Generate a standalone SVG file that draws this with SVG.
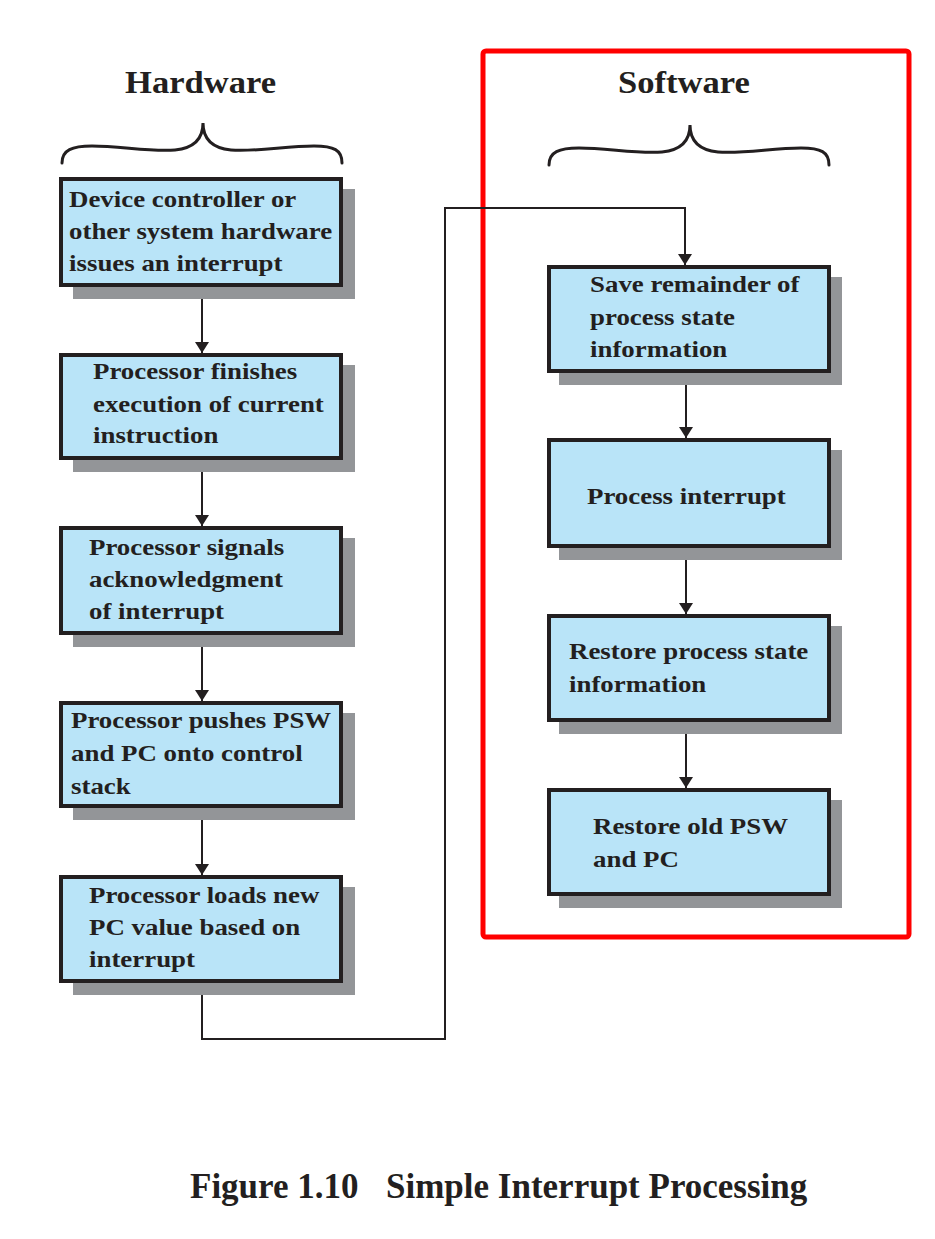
<svg xmlns="http://www.w3.org/2000/svg" width="935" height="1239" viewBox="0 0 935 1239">
<style>
.shadow{fill:#939598}
.box{fill:#b9e4f8;stroke:#231f20;stroke-width:4}
.t{font-family:"Liberation Serif","Times New Roman",serif;font-weight:bold;font-size:24px;fill:#231f20}
.h{font-family:"Liberation Serif","Times New Roman",serif;font-weight:bold;font-size:32px;fill:#231f20}
.cap{font-family:"Liberation Serif","Times New Roman",serif;font-weight:bold;font-size:35px;fill:#231f20}
.brace{fill:none;stroke:#231f20;stroke-width:3;stroke-linecap:round}
.conn{fill:none;stroke:#231f20;stroke-width:2}
</style>
<defs>
<marker id="arr" markerUnits="userSpaceOnUse" markerWidth="14" markerHeight="14" refX="11" refY="7" orient="auto">
<path d="M0,0 L11,7 L0,14 z" fill="#231f20"/>
</marker>
<path id="br" d="M62,163 C62,150 72,146 92,146 C120,146 150,152 175,150 C195,148 203,138 203,123 C203,138 211,148 231,150 C256,152 286,146 314,146 C334,146 342,150 342,163"/>
</defs>
<rect width="935" height="1239" fill="#ffffff"/>

<g id="software-frame">
<rect x="483" y="51" width="426" height="886" rx="3" fill="none" stroke="#ff0000" stroke-width="5"/>
</g>

<g id="hardware-header">
<text class="h" transform="translate(125,93) scale(1.08,1)">Hardware</text>
<use href="#br" class="brace"/>
</g>
<g id="software-header">
<text class="h" transform="translate(618,93) scale(1.08,1)">Software</text>
<use href="#br" class="brace" transform="translate(487,2)"/>
</g>

<g id="connectors">
<line class="conn" x1="202" y1="287" x2="202" y2="353" marker-end="url(#arr)"/>
<line class="conn" x1="202" y1="460" x2="202" y2="526" marker-end="url(#arr)"/>
<line class="conn" x1="202" y1="635" x2="202" y2="701" marker-end="url(#arr)"/>
<line class="conn" x1="202" y1="808" x2="202" y2="875" marker-end="url(#arr)"/>
<polyline class="conn" points="202,983 202,1039 445,1039 445,208 685,208 685,265" marker-end="url(#arr)"/>
<line class="conn" x1="686" y1="373" x2="686" y2="438" marker-end="url(#arr)"/>
<line class="conn" x1="686" y1="548" x2="686" y2="614" marker-end="url(#arr)"/>
<line class="conn" x1="686" y1="722" x2="686" y2="788" marker-end="url(#arr)"/>
</g>

<g id="hw1">
<rect class="shadow" x="73" y="189" width="282" height="110"/>
<rect class="box" x="61" y="179" width="280" height="106"/>
<text class="t" transform="translate(69,207) scale(1.12,1)"><tspan x="0" y="0">Device controller or</tspan><tspan x="0" y="32">other system hardware</tspan><tspan x="0" y="64">issues an interrupt</tspan></text>
</g>
<g id="hw2">
<rect class="shadow" x="73" y="365" width="282" height="107"/>
<rect class="box" x="61" y="355" width="280" height="103"/>
<text class="t" transform="translate(93,379) scale(1.12,1)"><tspan x="0" y="0">Processor finishes</tspan><tspan x="0" y="33">execution of current</tspan><tspan x="0" y="64">instruction</tspan></text>
</g>
<g id="hw3">
<rect class="shadow" x="73" y="538" width="282" height="109"/>
<rect class="box" x="61" y="528" width="280" height="105"/>
<text class="t" transform="translate(89,555) scale(1.12,1)"><tspan x="0" y="0">Processor signals</tspan><tspan x="0" y="32">acknowledgment</tspan><tspan x="0" y="64">of interrupt</tspan></text>
</g>
<g id="hw4">
<rect class="shadow" x="73" y="713" width="282" height="107"/>
<rect class="box" x="61" y="703" width="280" height="103"/>
<text class="t" transform="translate(71,728) scale(1.12,1)"><tspan x="0" y="0">Processor pushes PSW</tspan><tspan x="0" y="33">and PC onto control</tspan><tspan x="0" y="66">stack</tspan></text>
</g>
<g id="hw5">
<rect class="shadow" x="73" y="887" width="282" height="108"/>
<rect class="box" x="61" y="877" width="280" height="104"/>
<text class="t" transform="translate(89,903) scale(1.12,1)"><tspan x="0" y="0">Processor loads new</tspan><tspan x="0" y="32">PC value based on</tspan><tspan x="0" y="64">interrupt</tspan></text>
</g>

<g id="sw1">
<rect class="shadow" x="559" y="277" width="283" height="108"/>
<rect class="box" x="549" y="267" width="280" height="104"/>
<text class="t" transform="translate(590,292) scale(1.12,1)"><tspan x="0" y="0">Save remainder of</tspan><tspan x="0" y="33">process state</tspan><tspan x="0" y="65">information</tspan></text>
</g>
<g id="sw2">
<rect class="shadow" x="559" y="450" width="283" height="110"/>
<rect class="box" x="549" y="440" width="280" height="106"/>
<text class="t" transform="translate(587,504) scale(1.12,1)">Process interrupt</text>
</g>
<g id="sw3">
<rect class="shadow" x="559" y="626" width="283" height="108"/>
<rect class="box" x="549" y="616" width="280" height="104"/>
<text class="t" transform="translate(569,659) scale(1.12,1)"><tspan x="0" y="0">Restore process state</tspan><tspan x="0" y="33">information</tspan></text>
</g>
<g id="sw4">
<rect class="shadow" x="559" y="800" width="283" height="108"/>
<rect class="box" x="549" y="790" width="280" height="104"/>
<text class="t" transform="translate(593,834) scale(1.12,1)"><tspan x="0" y="0">Restore old PSW</tspan><tspan x="0" y="33">and PC</tspan></text>
</g>

<g id="caption">
<text class="cap" x="190" y="1198">Figure 1.10</text>
<text class="cap" x="386" y="1198">Simple Interrupt Processing</text>
</g>
</svg>
